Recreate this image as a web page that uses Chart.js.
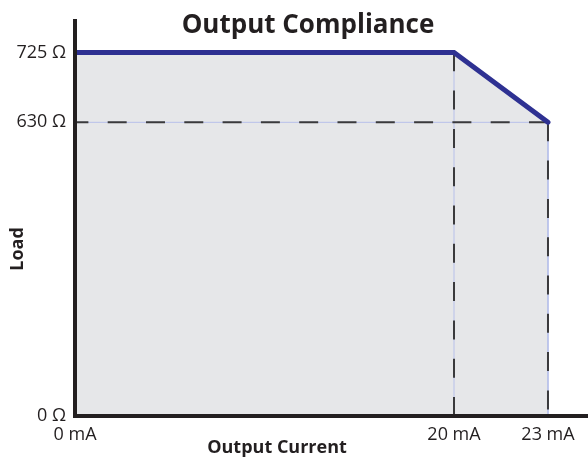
<!DOCTYPE html>
<html>
<head>
<meta charset="utf-8">
<script src="https://cdn.jsdelivr.net/npm/chart.js@4/dist/chart.umd.min.js"></script>
<style>
  html, body { margin: 0; background: #fff; }
  #wrap { width: 588px; height: 459px; position: relative; }
</style>
</head>
<body>
<div id="wrap"><canvas id="chart"></canvas></div>
<script>
const currentMA = [0, 20, 23];
const loadOhm = [725, 725, 630];
const xTicks = [0, 20, 23];
const yTicks = [0, 630, 725];

const titleText = "Output Compliance";
const xTitle = "Output Current";
const yTitle = "Load";

// the original is schematic, each axis is stretched piece by piece
const knots = {
  x: { values: [0, 20, 23, 24.28], fracs: [0, 0.7388, 0.922, 1] },
  y: { values: [0, 630, 725, 767], fracs: [0, 0.7435, 0.9203, 1] }
};

function interp(from, to, v) {
  for (let i = 1; i < from.length; i++) {
    if (v <= from[i] || i === from.length - 1) {
      const t = (v - from[i - 1]) / (from[i] - from[i - 1]);
      return to[i - 1] + t * (to[i] - to[i - 1]);
    }
  }
}

class PiecewiseScale extends Chart.LinearScale {
  getPixelForValue(value) {
    const k = knots[this.id];
    return this.getPixelForDecimal(interp(k.values, k.fracs, value));
  }
  getValueForPixel(pixel) {
    const k = knots[this.id];
    return interp(k.fracs, k.values, this.getDecimalForPixel(pixel));
  }
}
PiecewiseScale.id = "piecewise";
PiecewiseScale.defaults = Chart.LinearScale.defaults;
Chart.register(PiecewiseScale);

const outline = currentMA.map((x, i) => ({ x: x, y: loadOhm[i] }));
const knee = outline[1];
const corner = outline[2];
const guideLines = [
  [corner, { x: xTicks[0], y: corner.y }],
  [{ x: knee.x, y: yTicks[0] }, knee],
  [corner, { x: corner.x, y: yTicks[0] }]
];

const axisText = {
  id: "axisText",
  afterDraw(chart) {
    const c = chart.ctx;
    c.save();
    c.fillStyle = "#231f20";
    c.textAlign = "center";
    c.textBaseline = "alphabetic";
    c.font = 'bold 26px "Open Sans"';
    c.fillText(titleText, 308, 33);
    c.font = 'bold 18px "Open Sans"';
    c.fillText(xTitle, 277, 453);
    c.translate(23, 249);
    c.rotate(-Math.PI / 2);
    c.fillText(yTitle, 0, 0);
    c.restore();
  }
};

function axis(ticks, unit, min, max) {
  return {
    type: "piecewise",
    min: min,
    max: max,
    grid: { display: false, drawTicks: false },
    border: { display: true, color: "#231f20", width: 4, z: 1 },
    afterBuildTicks: s => { s.ticks = ticks.map(v => ({ value: v })); },
    ticks: {
      autoSkip: false,
      maxRotation: 0,
      color: "#231f20",
      font: { size: 18 },
      callback: v => v + " " + unit
    }
  };
}

const xAxis = axis(xTicks, "mA", 0, 24.28);
xAxis.ticks.padding = 8;
xAxis.afterFit = s => { s.height = 43; };
const yAxis = axis(yTicks, "Ω", 0, 767);
yAxis.ticks.padding = 9;
yAxis.afterFit = s => { s.width = 75; };

Chart.defaults.font.family = '"Open Sans", sans-serif';

new Chart(document.getElementById("chart"), {
  type: "line",
  data: {
    datasets: [
      {
        data: outline,
        borderColor: "#2e3192",
        borderWidth: 5,
        backgroundColor: "#e6e7e9",
        fill: "origin",
        pointRadius: 0,
        borderJoinStyle: "miter",
        borderCapStyle: "round"
      },
      ...guideLines.map(d => ({
        data: d,
        borderColor: "#3a3a3c",
        borderWidth: 2,
        borderDash: [19, 19.3],
        pointRadius: 0,
        fill: false
      })),
      ...guideLines.map(d => ({
        data: d,
        borderColor: "#b7c0ea",
        borderWidth: 1,
        pointRadius: 0,
        fill: false
      }))
    ]
  },
  options: {
    responsive: true,
    maintainAspectRatio: false,
    animation: false,
    layout: { padding: { top: 21, left: 0, right: 0, bottom: 0 } },
    plugins: {
      legend: { display: false },
      tooltip: { enabled: false },
      filler: { drawTime: "beforeDatasetsDraw" }
    },
    scales: { x: xAxis, y: yAxis }
  },
  plugins: [axisText]
});
</script>
</body>
</html>
